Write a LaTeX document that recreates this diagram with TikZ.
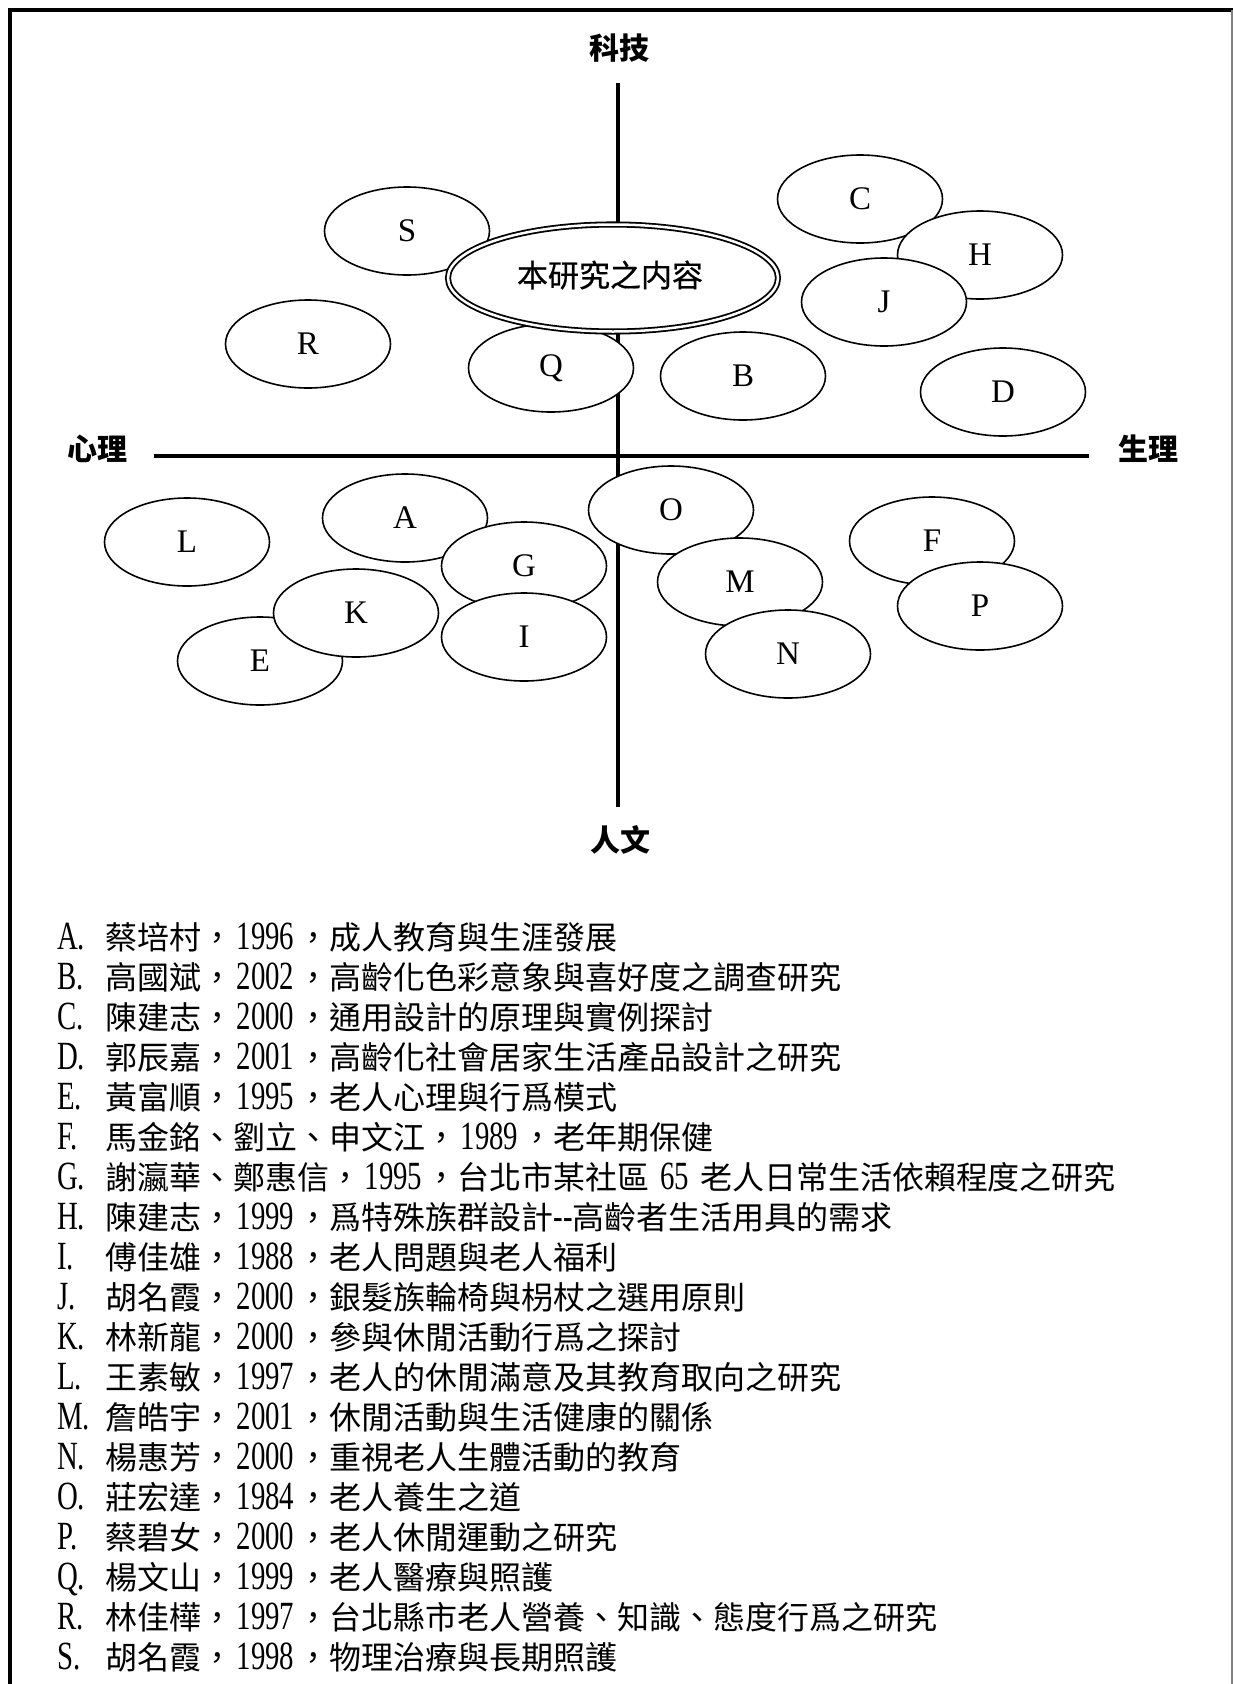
\documentclass[tikz,border=0pt]{standalone}
\usepackage{fontspec}
\setmainfont{Liberation Serif}
\newfontfamily\cjk{Noto Sans CJK TC}
\newfontfamily\cjkm[FakeBold=0.6]{Noto Sans CJK TC}
\newfontfamily\narrowlat[FakeStretch=0.72]{Liberation Serif}
\usetikzlibrary{shapes.geometric}
\newcommand\latplain[1]{{\narrowlat\fontsize{40}{40}\selectfont #1}}
\newcommand\latn[1]{\hspace{3.5pt}\latplain{#1}\hspace{3.5pt}}
\newcommand\litline[2]{\makebox[48pt][l]{\narrowlat\fontsize{40}{40}\selectfont #1.}{\cjk #2}}
\tikzset{
  bub/.style={ellipse, draw, line width=1.6pt, fill=white, minimum width=165pt,
    minimum height=88pt, inner sep=0pt, font=\fontsize{33}{33}\selectfont},
  axis/.style={line width=4pt},
  axlabel/.style={font=\cjk\bfseries\fontsize{30}{30}\selectfont, inner sep=0pt},
  litem/.style={anchor=base west, inner sep=0pt, font=\fontsize{32}{32}\selectfont},
  core/.style={ellipse, draw, fill=white, line width=1.8pt, double, double distance=2.5pt,
    minimum width=330pt, minimum height=107pt, inner sep=0pt},
  coretext/.style={inner sep=0pt, font=\cjkm\fontsize{31}{31}\selectfont}
}
\begin{document}
\begin{tikzpicture}[x=1pt, y=-1pt]
\useasboundingbox (0,0) rectangle (1233,1684);
\fill[white] (0,0) rectangle (1233,1684);
% frame
\coordinate (tl) at (10,10);
\coordinate (tr) at (1233,10);
\coordinate (bl) at (10,1684);
\coordinate (rt) at (1232,10);
\coordinate (rb) at (1232,1684);
\draw[line width=4pt] (bl) -- (tl) -- (tr);
\draw[gray, line width=1.5pt] (rt) -- (rb);
% axes
\coordinate (vt) at (618,83);
\coordinate (vb) at (618,807);
\coordinate (hl) at (154,456);
\coordinate (hr) at (1089,456);
\draw[axis] (vt) -- (vb);
\draw[axis] (hl) -- (hr);
% axis labels
\node[axlabel] (tech) at (619,48) {科技};
\node[axlabel] (psy) at (97,449) {心理};
\node[axlabel] (phy) at (1148,449) {生理};
\node[axlabel] (hum) at (620,840) {人文};
% bubbles
\node[bub] (S) at (407,231) {S};
\node[bub] (R) at (308,344) {R};
\node[bub] (Q) at (551,368) {Q};
\node[bub] (B) at (743,376) {B};
\node[bub] (C) at (860,199) {C};
\node[bub] (H) at (980,255) {H};
\node[bub] (J) at (884,302) {J};
\node[bub] (D) at (1003,392) {D};
\node[bub] (L) at (187,542) {L};
\node[bub] (A) at (405,518) {A};
\node[bub] (G) at (524,566) {G};
\node[bub] (I) at (524,637) {I};
\node[bub] (E) at (260,661) {E};
\node[bub] (K) at (356,613) {K};
\node[bub] (O) at (671,510) {O};
\node[bub] (M) at (740,582) {M};
\node[bub] (N) at (788,654) {N};
\node[bub] (F) at (932,541) {F};
\node[bub] (P) at (980,606) {P};
% central
\node[core] (main) at (613,278) {};
\node[coretext] (maintext) at (610,275) {本研究之内容};
% list
\node[litem] (lA) at (57,949) {\litline{A}{蔡培村，\latn{1996}，成人教育與生涯發展}};
\node[litem] (lB) at (57,989) {\litline{B}{高國斌，\latn{2002}，高齡化色彩意象與喜好度之調查研究}};
\node[litem] (lC) at (57,1029) {\litline{C}{陳建志，\latn{2000}，通用設計的原理與實例探討}};
\node[litem] (lD) at (57,1069) {\litline{D}{郭辰嘉，\latn{2001}，高齡化社會居家生活產品設計之研究}};
\node[litem] (lE) at (57,1109) {\litline{E}{黃富順，\latn{1995}，老人心理與行爲模式}};
\node[litem] (lF) at (57,1149) {\litline{F}{馬金銘、劉立、申文江，\latn{1989}，老年期保健}};
\node[litem] (lG) at (57,1189) {\litline{G}{謝瀛華、鄭惠信，\latn{1995}，台北市某社區\latn{ 65 }老人日常生活依賴程度之研究}};
\node[litem] (lH) at (57,1229) {\litline{H}{陳建志，\latn{1999}，爲特殊族群設計\latplain{-{}-}高齡者生活用具的需求}};
\node[litem] (lI) at (57,1269) {\litline{I}{傅佳雄，\latn{1988}，老人問題與老人福利}};
\node[litem] (lJ) at (57,1309) {\litline{J}{胡名霞，\latn{2000}，銀髮族輪椅與枴杖之選用原則}};
\node[litem] (lK) at (57,1349) {\litline{K}{林新龍，\latn{2000}，參與休閒活動行爲之探討}};
\node[litem] (lL) at (57,1389) {\litline{L}{王素敏，\latn{1997}，老人的休閒滿意及其教育取向之研究}};
\node[litem] (lM) at (57,1429) {\litline{M}{詹皓宇，\latn{2001}，休閒活動與生活健康的關係}};
\node[litem] (lN) at (57,1469) {\litline{N}{楊惠芳，\latn{2000}，重視老人生體活動的教育}};
\node[litem] (lO) at (57,1509) {\litline{O}{莊宏達，\latn{1984}，老人養生之道}};
\node[litem] (lP) at (57,1549) {\litline{P}{蔡碧女，\latn{2000}，老人休閒運動之研究}};
\node[litem] (lQ) at (57,1589) {\litline{Q}{楊文山，\latn{1999}，老人醫療與照護}};
\node[litem] (lR) at (57,1629) {\litline{R}{林佳樺，\latn{1997}，台北縣市老人營養、知識、態度行爲之研究}};
\node[litem] (lS) at (57,1669) {\litline{S}{胡名霞，\latn{1998}，物理治療與長期照護}};
\end{tikzpicture}
\end{document}
